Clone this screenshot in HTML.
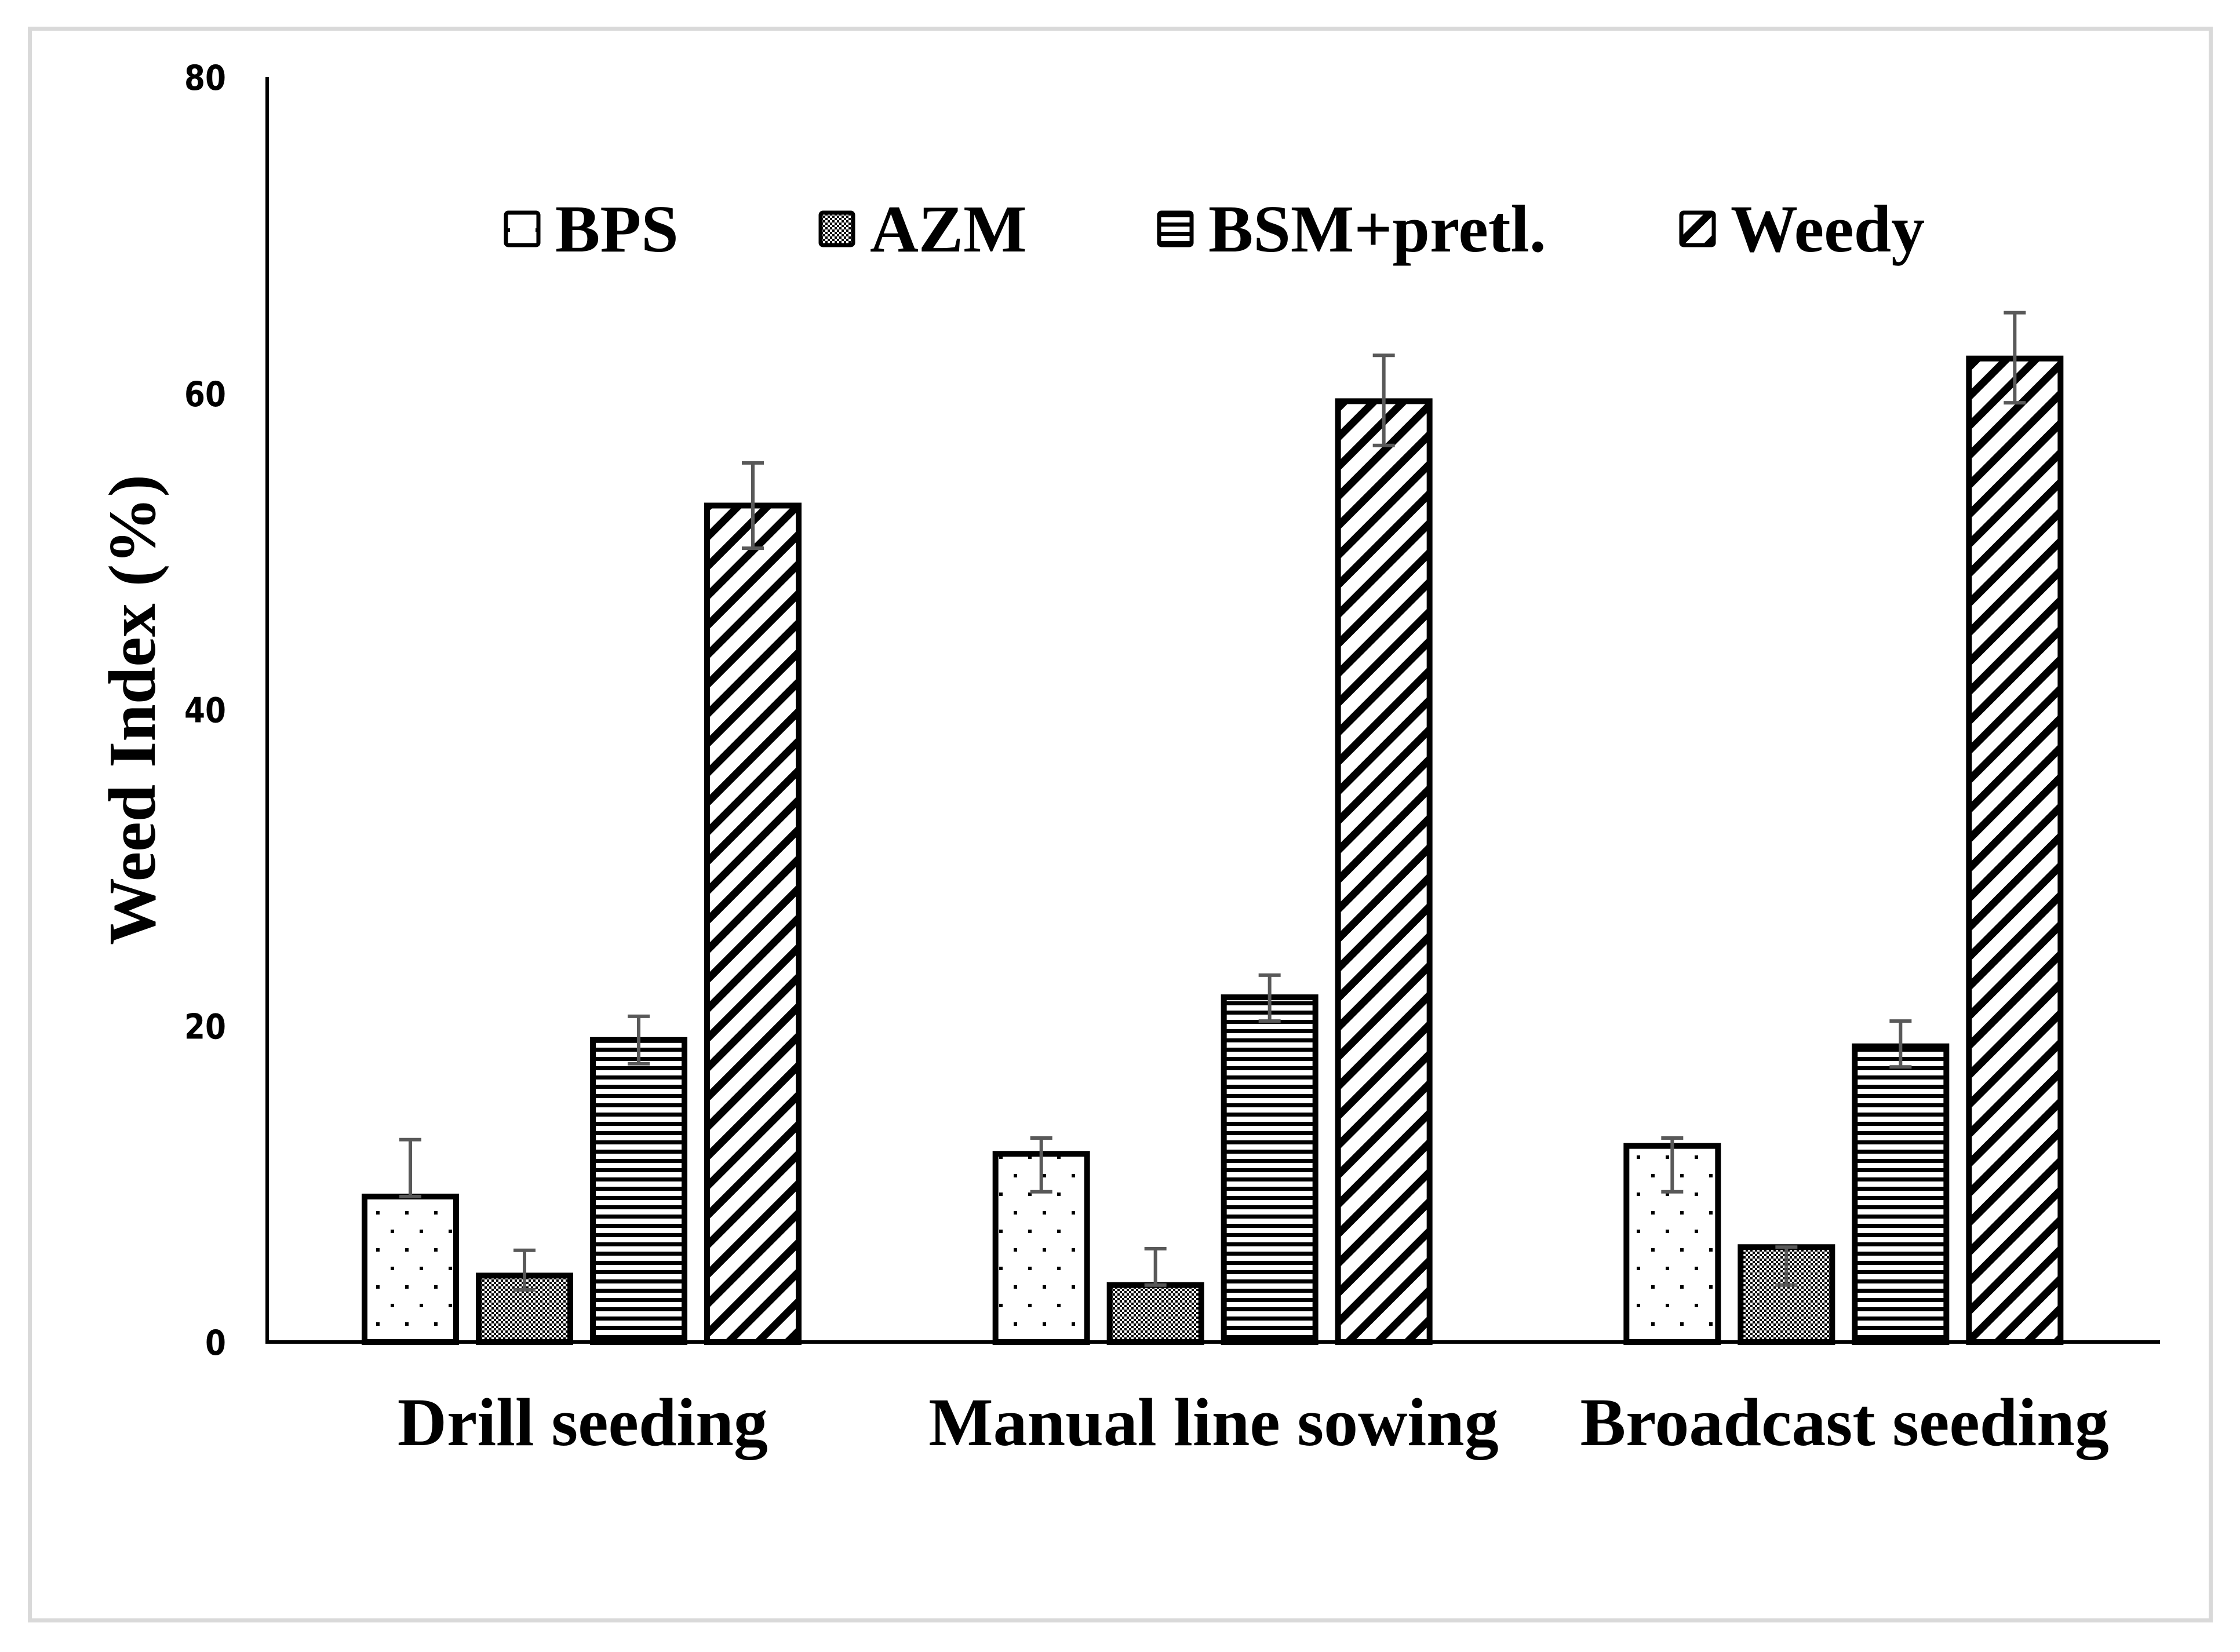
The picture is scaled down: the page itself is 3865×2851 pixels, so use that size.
<!DOCTYPE html>
<html><head><meta charset="utf-8"><style>
html,body{margin:0;padding:0;background:#fff;}
svg{display:block;}
</style></head><body>
<svg id="chart" width="3865" height="2851" viewBox="0 0 3865 2851" xmlns="http://www.w3.org/2000/svg">
<defs>
<pattern id="pDots" patternUnits="userSpaceOnUse" width="50" height="64" x="0" y="0">
<rect x="24" y="10" width="6" height="6" fill="#000"/><rect x="49" y="42" width="6" height="6" fill="#000"/><rect x="-1" y="42" width="6" height="6" fill="#000"/>
</pattern>
<pattern id="pCheck" patternUnits="userSpaceOnUse" width="8" height="8">
<rect width="8" height="8" fill="#fff"/><rect width="4" height="4" fill="#000"/><rect x="4" y="4" width="4" height="4" fill="#000"/>
</pattern>
<pattern id="pHoriz" patternUnits="userSpaceOnUse" width="16" height="16">
<rect width="16" height="16" fill="#fff"/><rect y="0" width="16" height="7" fill="#000"/>
</pattern>
<pattern id="pDiag" patternUnits="userSpaceOnUse" width="36" height="36" patternTransform="rotate(45)">
<rect width="36" height="36" fill="#fff"/><rect x="0" y="0" width="13" height="36" fill="#000"/>
</pattern>
</defs>
<rect x="51.5" y="49.5" width="3763" height="2747" fill="none" stroke="#d9d9d9" stroke-width="7"/>
<g id="plot"></g>
</svg>
<script>
const categories = ["Drill seeding", "Manual line sowing", "Broadcast seeding"];
const seriesNames = ["BPS", "AZM", "BSM+pretl.", "Weedy"];
const bpsValues = [9.2, 11.9, 12.4];
const azmValues = [4.2, 3.6, 6.0];
const bsmValues = [19.1, 21.8, 18.7];
const weedyValues = [52.9, 59.5, 62.2];
const bpsErrUp = [3.6, 1.0, 0.5];
const bpsErrDown = [0, 2.4, 2.9];
const azmErrUp = [1.6, 2.3, 0.0];
const azmErrDown = [0.9, 0.0, 2.4];
const bsmErrUp = [1.5, 1.4, 1.6];
const bsmErrDown = [1.5, 1.5, 1.3];
const weedyErrUp = [2.7, 2.9, 2.9];
const weedyErrDown = [2.7, 2.8, 2.8];
const yTicks = [0, 20, 40, 60, 80];

const NS = "http://www.w3.org/2000/svg";
const g = document.getElementById('plot');
const X0 = 461, X1 = 3727, Y0 = 2316, Y80 = 133;
const yMax = 80;
function yScale(v){ return Y0 - (v / yMax) * (Y0 - Y80); }
const catW = (X1 - X0) / categories.length;
const barW = 158, barPitch = 197;
function xBar(ci, si){ return X0 + ci * catW + 168 + si * barPitch; }
function mk(tag, attrs){ const e = document.createElementNS(NS, tag); for (const k in attrs) e.setAttribute(k, attrs[k]); g.appendChild(e); return e; }

const values = [bpsValues, azmValues, bsmValues, weedyValues];
const errUp = [bpsErrUp, azmErrUp, bsmErrUp, weedyErrUp];
const errDown = [bpsErrDown, azmErrDown, bsmErrDown, weedyErrDown];
const fills = ["url(#pDots)", "url(#pCheck)", "url(#pHoriz)", "url(#pDiag)"];

// bars
for (let s = 0; s < values.length; s++) {
  for (let c = 0; c < categories.length; c++) {
    const v = values[s][c];
    const x = xBar(c, s), y = yScale(v);
    const r = mk('rect', {x: x, y: y, width: barW, height: Y0 - y, fill: '#fff'});
    
    
    const r2 = mk('rect', {x: x, y: y, width: barW, height: Y0 - y, fill: fills[s], stroke: '#000', 'stroke-width': 10});
    
    
  }
}
// error bars
for (let s = 0; s < values.length; s++) {
  for (let c = 0; c < categories.length; c++) {
    const v = values[s][c];
    const cx = xBar(c, s) + barW / 2;
    const yt = yScale(v + errUp[s][c]), yb = yScale(v - errDown[s][c]);
    const eb = document.createElementNS(NS, 'path');
    eb.setAttribute('d', `M${cx},${yt}V${yb}M${cx-19},${yt}H${cx+19}M${cx-19},${yb}H${cx+19}`);
    eb.setAttribute('stroke', '#595959'); eb.setAttribute('stroke-width', 6); eb.setAttribute('fill', 'none');
    
    
    g.appendChild(eb);
  }
}
// axes
const ya = mk('line', {x1: X0, y1: Y80, x2: X0, y2: Y0 + 3, stroke: '#000', 'stroke-width': 6});


const xa = mk('line', {x1: X0 - 3, y1: Y0, x2: X1, y2: Y0, stroke: '#000', 'stroke-width': 6});


// y tick labels
for (let i = 0; i < yTicks.length; i++) {
  const t = mk('text', {x: 390, y: yScale(yTicks[i]) + 22, 'text-anchor': 'end', 'font-family': 'DejaVu Sans, sans-serif', 'font-weight': 'bold', 'font-size': 60});
  t.setAttribute('textLength', String(yTicks[i]).length * 36);
  t.setAttribute('lengthAdjust', 'spacingAndGlyphs');
  t.textContent = yTicks[i];
  
  
}
// category labels
for (let c = 0; c < categories.length; c++) {
  const t = mk('text', {x: X0 + (c + 0.5) * catW, y: 2494, 'text-anchor': 'middle', 'font-family': 'Liberation Serif, serif', 'font-weight': 'bold', 'font-size': 118});
  t.textContent = categories[c];
  
  
}
// y title
const yt = mk('text', {x: 0, y: 0, transform: 'translate(267,1225) rotate(-90)', 'text-anchor': 'middle', 'font-family': 'Liberation Serif, serif', 'font-weight': 'bold', 'font-size': 116});
yt.textContent = 'Weed Index (%)';


// legend
const legBoxX = [870, 1413, 1997, 2898];
for (let s = 0; s < seriesNames.length; s++) {
  const b0 = mk('rect', {x: legBoxX[s], y: 364, width: 62, height: 62, fill: '#fff'});
  
  
  const b = mk('rect', {x: legBoxX[s] + 3, y: 367, width: 56, height: 56, rx: 4, fill: fills[s], stroke: '#000', 'stroke-width': 7});
  
  
  const t = mk('text', {x: legBoxX[s] + 88, y: 434, 'font-family': 'Liberation Serif, serif', 'font-weight': 'bold', 'font-size': 116});
  t.textContent = seriesNames[s];
  
  
}
</script>
</body></html>
